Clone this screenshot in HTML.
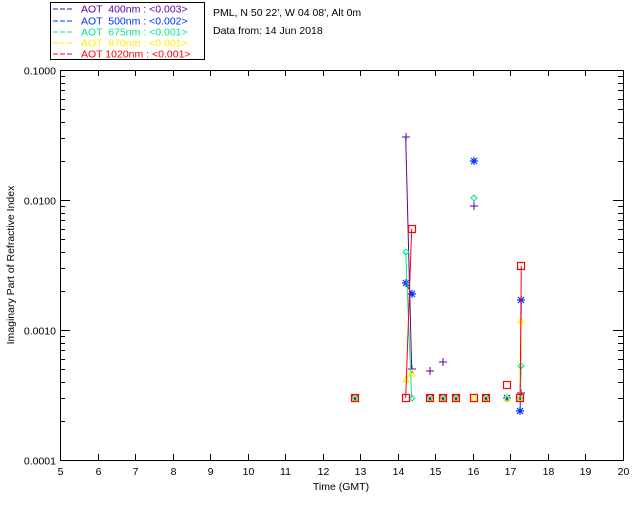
<!DOCTYPE html>
<html><head><meta charset="utf-8"><style>
body{margin:0;background:#fff;}
svg{display:block;font-family:"Liberation Sans",sans-serif;}
</style></head><body>
<svg id="chart" width="640" height="512">
<g>
<rect x="50.5" y="2.5" width="154" height="57" fill="none" stroke="#000"/>
<g font-size="10.5">
<line x1="53" y1="9" x2="74" y2="9" stroke="#5a00a0" stroke-dasharray="5,2"/><text x="81" y="12.5" fill="#5a00a0" xml:space="preserve">AOT  400nm : &lt;0.003&gt;</text>
<line x1="53" y1="21" x2="74" y2="21" stroke="#0030ff" stroke-dasharray="5,2"/><text x="81" y="24.5" fill="#0030ff" xml:space="preserve">AOT  500nm : &lt;0.002&gt;</text>
<line x1="53" y1="32" x2="74" y2="32" stroke="#00e890" stroke-dasharray="5,2"/><text x="81" y="35.5" fill="#00e890" xml:space="preserve">AOT  675nm : &lt;0.001&gt;</text>
<line x1="53" y1="43" x2="74" y2="43" stroke="#ffee00" stroke-dasharray="5,2"/><text x="81" y="46.5" fill="#ffee00" xml:space="preserve">AOT  870nm : &lt;0.001&gt;</text>
<line x1="53" y1="54" x2="74" y2="54" stroke="#ff0000" stroke-dasharray="5,2"/><text x="81" y="57.5" fill="#ff0000" xml:space="preserve">AOT 1020nm : &lt;0.001&gt;</text>
</g></g>
<text x="213" y="16" font-size="10.5">PML, N 50 22', W 04 08', Alt 0m</text>
<text x="213" y="34" font-size="10.5">Data from: 14 Jun 2018</text>
<g id="axes"></g>
<g id="marks"></g>
<text x="341" y="490" font-size="10.5" text-anchor="middle">Time (GMT)</text>
<text transform="translate(14,265) rotate(-90)" font-size="10.5" text-anchor="middle">Imaginary Part of Refractive Index</text>
</svg>
<script>
const xTicks=[5,6,7,8,9,10,11,12,13,14,15,16,17,18,19,20];
const yTickLabels=["0.0001","0.0010","0.0100","0.1000"];
const t400=[12.85,14.21,14.37,14.87,15.2,15.54,16.02,16.34,16.9,17.26,17.29];
const v400=[0.0003,0.0305,0.0005,0.00048,0.00057,0.0003,0.009,0.0003,0.0003,0.0003,0.00033];
const t500=[12.85,14.21,14.37,14.87,15.2,15.54,16.02,16.34,16.9,17.26,17.29];
const v500=[0.0003,0.0023,0.0019,0.0003,0.0003,0.0003,0.02,0.0003,0.0003,0.00024,0.0017];
const t675=[12.85,14.21,14.37,14.87,15.2,15.54,16.02,16.34,16.9,17.26,17.29];
const v675=[0.0003,0.004,0.0003,0.0003,0.0003,0.0003,0.0103,0.0003,0.0003,0.0003,0.00053];
const t870=[12.85,14.21,14.37,14.87,15.2,15.54,16.02,16.34,16.9,17.26,17.29];
const v870=[0.0003,0.00042,0.00047,0.0003,0.0003,0.0003,0.0003,0.0003,0.0003,0.0003,0.0012];
const t1020=[12.85,14.21,14.37,14.87,15.2,15.54,16.02,16.34,16.9,17.26,17.29];
const v1020=[0.0003,0.0003,0.006,0.0003,0.0003,0.0003,0.0003,0.0003,0.00038,0.0003,0.0031];
const X0=60,X1=623,Y0=460,Y1=70;
const xs=t=>X0+(t-5)/(20-5)*(X1-X0);
const ys=v=>Y0-(Math.log10(v)+4)/3*(Y0-Y1);
const NS="http://www.w3.org/2000/svg";
function mk(tag,attrs,parent){const e=document.createElementNS(NS,tag);for(const k in attrs)e.setAttribute(k,attrs[k]);parent.appendChild(e);return e;}
const ax=document.getElementById('axes');
const frame=mk('rect',{x:X0+.5,y:Y1+.5,width:X1-X0,height:Y0-Y1,fill:'none',stroke:'#000'},ax);


xTicks.forEach(t=>{const x=Math.round(xs(t))+.5;
 mk('line',{x1:x,x2:x,y1:Y0,y2:Y0-6,stroke:'#000'},ax);
 mk('line',{x1:x,x2:x,y1:Y1,y2:Y1+6,stroke:'#000'},ax);
 const tx=mk('text',{x:x,y:Y0+15,'font-size':10.5,'text-anchor':'middle'},ax);tx.textContent=t;
 
 
});
yTickLabels.forEach((lab,i)=>{const v=Math.pow(10,i-4);const y=Math.round(ys(v))+.5;
 mk('line',{x1:X0,x2:X0+10,y1:y,y2:y,stroke:'#000'},ax);
 mk('line',{x1:X1,x2:X1-10,y1:y,y2:y,stroke:'#000'},ax);
 const tx=mk('text',{x:X0-4,y:y+4,'font-size':10.5,'text-anchor':'end'},ax);tx.textContent=lab;
 
 
 if(i<3)for(let m=2;m<10;m++){const ym=Math.round(ys(v*m))+.5;
  mk('line',{x1:X0,x2:X0+5,y1:ym,y2:ym,stroke:'#000'},ax);
  mk('line',{x1:X1,x2:X1-5,y1:ym,y2:ym,stroke:'#000'},ax);}
});
const mg=document.getElementById('marks');
function marker(type,x,y,c,g){
 if(type==='plus'){mk('path',{d:`M${x-4} ${y}H${x+4}M${x} ${y-4}V${y+4}`,stroke:c,fill:'none'},g);}
 else if(type==='star'){mk('path',{d:`M${x-4} ${y}H${x+4}M${x} ${y-4}V${y+4}M${x-3} ${y-3}L${x+3} ${y+3}M${x-3} ${y+3}L${x+3} ${y-3}`,stroke:c,'stroke-width':1.2,fill:'none'},g);}
 else if(type==='diamond'){mk('path',{d:`M${x} ${y-3}L${x+3} ${y}L${x} ${y+3}L${x-3} ${y}Z`,stroke:c,fill:'none'},g);}
 else if(type==='tri'){mk('path',{d:`M${x} ${y-3}L${x+3} ${y+3}L${x-3} ${y+3}Z`,stroke:c,fill:'none'},g);}
 else {mk('rect',{x:x-3.5,y:y-3.5,width:7,height:7,stroke:c,fill:'none','stroke-width':1.2},g);}
}
const series=[["aot-400",t400,v400,"#5a00a0","plus"],["aot-500",t500,v500,"#0030ff","star"],["aot-675",t675,v675,"#00e890","diamond"],["aot-870",t870,v870,"#ffee00","tri"],["aot-1020",t1020,v1020,"#ff0000","square"]];
series.forEach(([name,T,V,c,type])=>{
 const g=mk('g',{},mg);
 
 
 for(let i=1;i<T.length;i++){if(T[i]-T[i-1]<0.25){
  mk('line',{x1:xs(T[i-1]),y1:ys(V[i-1]),x2:xs(T[i]),y2:ys(V[i]),stroke:c,'stroke-width':1},g);}}
 T.forEach((t,i)=>marker(type,Math.round(xs(t)),Math.round(ys(V[i])),c,g));
});
</script>
</body></html>
